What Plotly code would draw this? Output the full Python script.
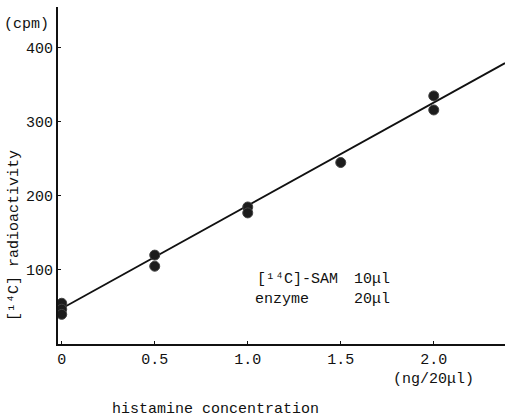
import plotly.graph_objects as go

# Measured radioactivity for each histamine standard
conc = [0, 0, 0, 0.5, 0.5, 1.0, 1.0, 1.5, 2.0, 2.0]
cpm = [55, 47, 40, 120, 105, 185, 177, 245, 335, 316]

# Standard line drawn through the points
line_intercept = 48
line_slope = 139
line_x = [0, 2.383]

x_ticks = [0, 0.5, 1.0, 1.5, 2.0]
x_tick_text = ["0", "0.5", "1.0", "1.5", "2.0"]
y_ticks = [100, 200, 300, 400]

W, H = 505, 417
ML, MR, MT, MB = 58, 0, 7, 73
PW, PH = W - ML - MR, H - MT - MB

def px(x):
    return (x - ML) / PW

def py(y):
    return (H - MB - y) / PH

FONT = "Liberation Mono"
INK = "#111111"

fig = go.Figure()
fig.add_trace(go.Scatter(
    x=line_x,
    y=[line_intercept + line_slope * v for v in line_x],
    mode="lines",
    line=dict(color=INK, width=1.8),
    hoverinfo="skip",
    showlegend=False,
))
fig.add_trace(go.Scatter(
    x=conc, y=cpm, mode="markers",
    marker=dict(size=10, color="#1c1c1c", line=dict(color="#444444", width=1)),
    showlegend=False,
))

fig.update_xaxes(
    range=[-0.02, 2.383], showgrid=False, zeroline=False,
    showline=True, linecolor=INK, linewidth=2,
    ticks="inside", ticklen=3, tickcolor=INK,
    tickvals=x_ticks, ticktext=x_tick_text,
    tickfont=dict(family=FONT, size=15, color=INK),
)
fig.update_yaxes(
    range=[0, 455], showgrid=False, zeroline=False,
    showline=True, linecolor=INK, linewidth=2,
    ticks="inside", ticklen=3, tickcolor=INK,
    tickvals=y_ticks,
    tickfont=dict(family=FONT, size=15, color=INK),
)

def label(text, x, y, xanchor="center", angle=0):
    fig.add_annotation(
        text=text, xref="paper", yref="paper", x=px(x), y=py(y),
        xanchor=xanchor, yanchor="middle", showarrow=False, textangle=angle,
        font=dict(family=FONT, size=15, color=INK),
    )

label("(cpm)", 27, 25)
label("[¹⁴C] radioactivity", 14, 236, angle=-90)
label("(ng/20μl)", 433, 380)
label("histamine concentration", 215, 409)
label("[¹⁴C]-SAM", 255, 279, xanchor="left")
label("10μl", 352, 279, xanchor="left")
label("enzyme", 253, 299, xanchor="left")
label("20μl", 352, 299, xanchor="left")

fig.update_layout(
    width=W, height=H,
    margin=dict(l=ML, r=MR, t=MT, b=MB),
    paper_bgcolor="white", plot_bgcolor="white",
    font=dict(family=FONT, size=15, color=INK),
)

fig.write_html("out.html")
